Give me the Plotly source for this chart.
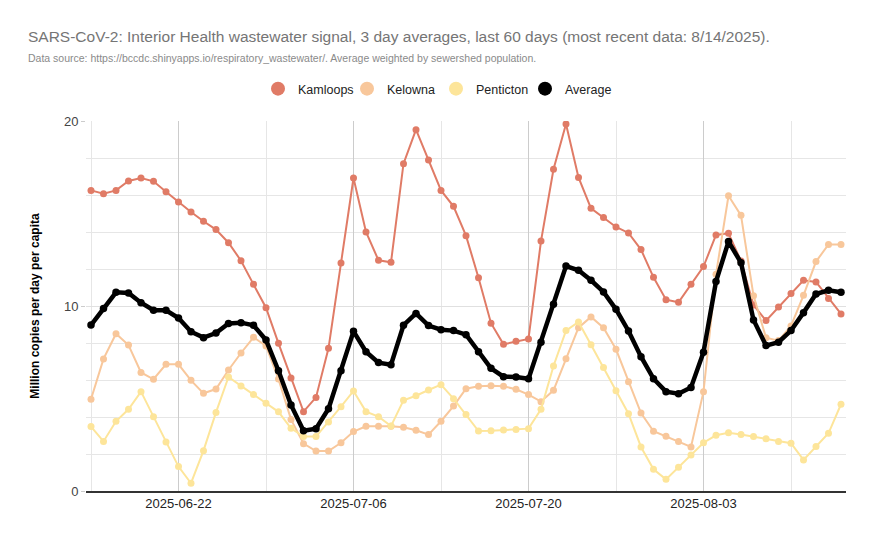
import pandas as pd
import plotly.graph_objects as go

start_date = "2025-06-15"
n_days = 61
dates = pd.date_range(start_date, periods=n_days, freq="D")

kamloops = [16.25, 16.07, 16.25, 16.76, 16.92, 16.74, 16.18, 15.62, 15.08, 14.58,
            14.13, 13.42, 12.45, 11.17, 9.91, 7.98, 6.11, 4.29, 5.06, 7.71,
            12.32, 16.92, 14.0, 12.47, 12.36, 17.69, 19.53, 17.89, 16.25, 15.39,
            13.80, 11.53, 9.07, 7.93, 8.09, 8.22, 13.51, 17.39, 19.84, 16.95,
            15.28, 14.78, 14.27, 13.95, 13.05, 11.55, 10.34, 10.20, 11.17, 12.13,
            13.84, 13.93, 12.43, 10.05, 9.21, 9.95, 10.67, 11.39, 11.30, 10.41,
            9.57]

kelowna = [4.96, 7.14, 8.50, 7.89, 6.41, 6.04, 6.85, 6.85, 5.98, 5.28,
           5.51, 6.54, 7.46, 8.31, 7.84, 6.05, 3.87, 2.56, 2.16, 2.16,
           2.61, 3.21, 3.50, 3.50, 3.50, 3.44, 3.28, 3.05, 3.77, 4.59,
           5.53, 5.66, 5.69, 5.66, 5.50, 5.21, 4.83, 5.44, 7.15, 8.83,
           9.41, 8.83, 7.66, 5.91, 4.21, 3.23, 2.96, 2.67, 2.38, 5.37,
           11.71, 15.96, 14.90, 10.56, 8.29, 8.13, 8.92, 10.58, 12.40, 13.33,
           13.33]

penticton = [3.48, 2.68, 3.77, 4.42, 5.37, 4.02, 2.65, 1.32, 0.42, 2.18,
             4.25, 6.16, 5.68, 5.21, 4.74, 4.28, 3.39, 2.94, 2.94, 3.73,
             4.56, 5.41, 4.29, 4.02, 3.51, 4.90, 5.15, 5.46, 5.75, 4.99,
             4.14, 3.24, 3.26, 3.30, 3.33, 3.37, 4.42, 6.76, 8.67, 9.14,
             7.91, 6.67, 5.42, 4.18, 2.38, 1.17, 0.63, 1.28, 1.95, 2.61,
             3.01, 3.15, 3.05, 2.94, 2.83, 2.68, 2.58, 1.68, 2.40, 3.12,
             4.69]

average = [8.97, 9.86, 10.74, 10.70, 10.18, 9.77, 9.77, 9.35, 8.61, 8.29,
           8.54, 9.06, 9.10, 8.96, 8.16, 6.50, 4.65, 3.26, 3.37, 4.45,
           6.50, 8.63, 7.53, 6.94, 6.83, 8.96, 9.60, 8.94, 8.72, 8.67,
           8.45, 7.53, 6.63, 6.18, 6.16, 6.07, 8.04, 10.09, 12.16, 11.93,
           11.39, 10.76, 9.82, 8.65, 7.26, 6.07, 5.37, 5.26, 5.60, 7.50,
           11.32, 13.48, 12.34, 9.25, 7.86, 8.04, 8.67, 9.64, 10.65, 10.85,
           10.74]

series_names = ["Kamloops", "Kelowna", "Penticton", "Average"]
series_values = [kamloops, kelowna, penticton, average]
series_colors = ["#e07b66", "#f8c79b", "#fde59a", "#000000"]
line_widths = [2, 2, 2, 4.5]
marker_sizes = [7, 7, 7, 7.5]

title_text = ("SARS-CoV-2: Interior Health wastewater signal, 3 day averages, "
              "last 60 days (most recent data: 8/14/2025).")
subtitle_text = ("Data source: https://bccdc.shinyapps.io/respiratory_wastewater/. "
                 "Average weighted by sewershed population.")
y_title = "<b>Million copies per day per capita</b>"

fig = go.Figure()
for name, vals, col, lw, ms in zip(series_names, series_values, series_colors,
                                   line_widths, marker_sizes):
    fig.add_trace(go.Scatter(x=dates, y=vals, mode="lines+markers", name=name,
                             line=dict(color=col, width=lw),
                             marker=dict(color=col, size=ms),
                             showlegend=False))
# legend entries (circle markers only)
for name, col in zip(series_names, series_colors):
    fig.add_trace(go.Scatter(x=[None], y=[None], mode="markers", name=name,
                             marker=dict(color=col, size=14)))

W, H = 873, 539
ml, mr, mt, mb = 86, 27, 121, 48
ph = H - mt - mb
pw = W - ml - mr

fig.update_layout(
    width=W, height=H,
    margin=dict(l=ml, r=mr, t=mt, b=mb, pad=0, autoexpand=False),
    paper_bgcolor="white", plot_bgcolor="white",
    font=dict(family="Liberation Sans, Arial, sans-serif", color="#222"),
    title=dict(text=title_text, x=28 / W, xanchor="left", xref="container",
               y=1 - 37 / H, yanchor="middle", yref="container",
               font=dict(size=15.5, color="#757575")),
    legend=dict(orientation="h", x=(258 - ml) / pw, xref="paper", xanchor="left",
                y=1 + 32 / ph, yanchor="middle",
                entrywidth=44, entrywidthmode="pixels",
                font=dict(size=12.5, color="#222"),
                tracegroupgap=0),
    annotations=[dict(text=subtitle_text, xref="paper", yref="paper",
                      x=(26 - ml) / pw, y=(H - mb - 58) / ph,
                      xanchor="left", yanchor="middle", showarrow=False,
                      font=dict(size=10.5, color="#8a8a8a"))],
    hovermode=False,
)

fig.update_xaxes(
    type="date",
    range=["2025-06-14 14:24", "2025-08-14 09:36"],
    tick0="2025-06-22", dtick=14 * 86400000, tickformat="%Y-%m-%d",
    tickangle=0,
    showgrid=True, gridcolor="#cccccc", gridwidth=1,
    minor=dict(tick0="2025-06-15", dtick=7 * 86400000, showgrid=True,
               gridcolor="#e6e6e6", gridwidth=1),
    showline=True, linecolor="#333333", linewidth=1.5,
    ticks="", tickfont=dict(size=13, color="#222"),
    zeroline=False, automargin=False,
)
fig.update_yaxes(
    range=[0, 20], tick0=0, dtick=10,
    showgrid=True, gridcolor="#e0e0e0", gridwidth=1,
    minor=dict(dtick=2, showgrid=True, gridcolor="#e6e6e6", gridwidth=1),
    ticks="outside", ticklen=4, tickcolor="#cccccc",
    tickfont=dict(size=13, color="#444"),
    title=dict(text=y_title, font=dict(size=12, color="#000"), standoff=21),
    zeroline=False, showline=False, automargin=False,
)

fig.write_html("out.html")
